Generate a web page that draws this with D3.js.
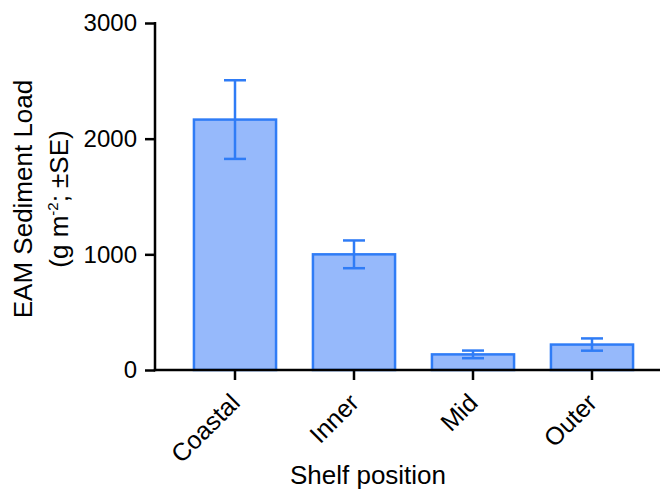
<!DOCTYPE html>
<html>
<head>
<meta charset="utf-8">
<script src="https://cdn.jsdelivr.net/npm/d3@7"></script>
<style>
  html, body { margin: 0; padding: 0; background: #fff; }
  svg { display: block; font-family: "Liberation Sans", Arial, sans-serif; }
</style>
</head>
<body>
<svg id="chart" width="668" height="491"></svg>
<script>
// Shelf positions and mean EAM sediment load (g m^-2) with standard errors
const categories = ["Coastal", "Inner", "Mid", "Outer"];
const means = [2165, 1000, 135, 220];
const errors = [340, 120, 33, 53];
const yTicks = [0, 1000, 2000, 3000];

const svg = d3.select("#chart");
const x0 = 155, yBase = 370, yTop = 23, xEnd = 660;
const font = "'Liberation Sans', Arial, sans-serif";

const y = d3.scaleLinear().domain([0, 3000]).range([yBase, yTop]);
const x = d3.scaleBand().domain(categories).range([175.5, 651.5]).paddingInner(0.31).paddingOuter(0.155);

const fill = "#96b9fb", stroke = "#2f7cf6";

// Bars
svg.append("g").selectAll("rect").data(categories).join("rect")
  .attr("x", d => x(d))
  .attr("y", (d, i) => y(means[i]))
  .attr("width", x.bandwidth())
  .attr("height", (d, i) => yBase - y(means[i]))
  .attr("fill", fill)
  .attr("stroke", stroke)
  .attr("stroke-width", 2.5);

// Error bars (±SE)
const eb = svg.append("g").attr("stroke", stroke).attr("stroke-width", 2.5).attr("fill", "none");
categories.forEach((c, i) => {
  const cx = x(c) + x.bandwidth() / 2;
  const hi = y(means[i] + errors[i]), lo = y(means[i] - errors[i]);
  eb.append("line").attr("x1", cx).attr("x2", cx).attr("y1", hi).attr("y2", lo);
  eb.append("line").attr("x1", cx - 11).attr("x2", cx + 11).attr("y1", hi).attr("y2", hi);
  eb.append("line").attr("x1", cx - 11).attr("x2", cx + 11).attr("y1", lo).attr("y2", lo);
});

// Y axis
const yAxis = svg.append("g").attr("transform", `translate(${x0},0)`)
  .call(d3.axisLeft(y).tickValues(yTicks).tickSize(10).tickPadding(8).tickFormat(d3.format("d")));
yAxis.select(".domain").remove();
yAxis.selectAll(".tick line").attr("stroke", "#000").attr("stroke-width", 2.5);
yAxis.selectAll(".tick text").attr("font-size", 24).attr("fill", "#000").attr("font-family", font);

// X axis
const xAxis = svg.append("g").attr("transform", `translate(0,${yBase})`)
  .call(d3.axisBottom(x).tickSize(10).tickPadding(4));
xAxis.select(".domain").remove();
xAxis.selectAll(".tick line").attr("stroke", "#000").attr("stroke-width", 2.5);
xAxis.selectAll(".tick text")
  .attr("font-size", 25).attr("fill", "#000").attr("font-family", font)
  .attr("text-anchor", "end")
  .attr("dy", "0.7em")
  .attr("transform", "translate(-6,22) rotate(-45)")
  .attr("y", 0).attr("x", 0);

// Axis lines
svg.append("line").attr("x1", x0).attr("x2", x0).attr("y1", yTop - 1).attr("y2", yBase + 1.25)
  .attr("stroke", "#000").attr("stroke-width", 2.5);
svg.append("line").attr("x1", x0 - 1.25).attr("x2", xEnd).attr("y1", yBase).attr("y2", yBase)
  .attr("stroke", "#000").attr("stroke-width", 2.5);

// Axis titles
svg.append("text").attr("x", 368).attr("y", 484).attr("text-anchor", "middle")
  .attr("font-size", 26).attr("fill", "#000").text("Shelf position");

const yt = svg.append("g").attr("transform", "translate(0,199) rotate(-90)");
yt.append("text").attr("x", 0).attr("y", 32).attr("text-anchor", "middle")
  .attr("font-size", 26).attr("fill", "#000").text("EAM Sediment Load");
const t2 = yt.append("text").attr("x", 0).attr("y", 68).attr("text-anchor", "middle")
  .attr("font-size", 26).attr("fill", "#000");
t2.append("tspan").text("(g m");
t2.append("tspan").attr("font-size", 15).attr("dy", -10).text("-2");
t2.append("tspan").attr("dy", 10).text("; \u00B1SE)");
</script>
</body>
</html>
